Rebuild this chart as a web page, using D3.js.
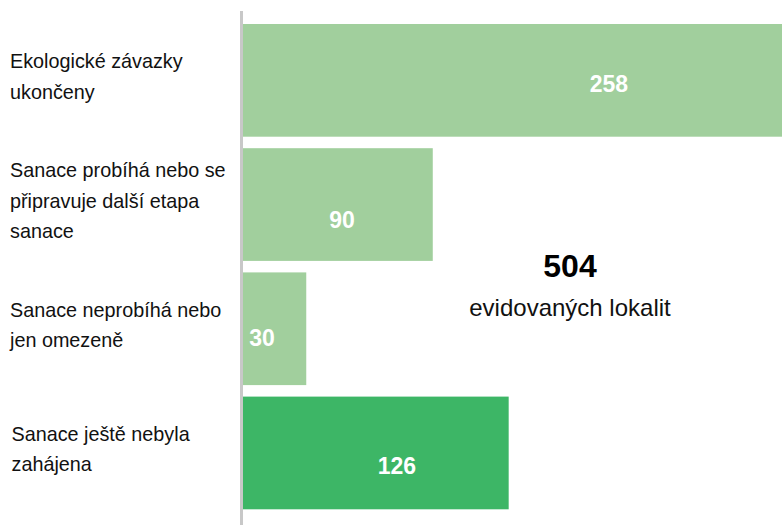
<!DOCTYPE html>
<html lang="cs">
<head>
  <meta charset="UTF-8">
  <title>Evidované lokality</title>
  <style>
    body { margin: 0; background: #fff; }
    svg { display: block; font-family: Arial, "Liberation Sans", sans-serif; }
  </style>
</head>
<body>
  <svg width="782" height="525"></svg>
  <script src="https://cdn.jsdelivr.net/npm/d3@7"></script>
  <script>
    // data
    var categories = [
      ["Ekologické závazky", "ukončeny"],
      ["Sanace probíhá nebo se", "připravuje další etapa", "sanace"],
      ["Sanace neprobíhá nebo", "jen omezeně"],
      ["Sanace ještě nebyla", "zahájena"]
    ];
    var values = [258, 90, 30, 126];
    var barColors = ["#a1cf9d", "#a1cf9d", "#a1cf9d", "#3db666"];
    var totalLabel = "evidovaných lokalit";

    // where the value labels sit (value units along x, px below bar middle)
    var labelAt = [173.5, 47, 9, 73];
    var labelDown = [3.5, 15, 8.5, 13];

    var svg = d3.select("svg");
    var width = +svg.attr("width");
    var height = +svg.attr("height");

    var x = d3.scaleLinear()
      .domain([0, d3.max(values)])
      .range([243, 787]);

    var y = d3.scaleBand()
      .domain(d3.range(values.length))
      .range([18.25, 515.05])
      .paddingInner(0.0926)
      .paddingOuter(0.0463);

    // bars
    svg.append("g")
      .selectAll("rect")
      .data(values)
      .join("rect")
      .attr("x", x(0))
      .attr("y", (d, i) => y(i))
      .attr("width", d => x(d) - x(0))
      .attr("height", y.bandwidth())
      .attr("fill", (d, i) => barColors[i]);

    // axis line
    svg.append("line")
      .attr("x1", x(0) - 1.5).attr("x2", x(0) - 1.5)
      .attr("y1", 11).attr("y2", height)
      .attr("stroke", "#c8c8c8")
      .attr("stroke-width", 3);

    // category labels
    var lineH = 30.5;
    var cat = svg.append("g")
      .selectAll("text")
      .data(categories)
      .join("text")
      .attr("font-size", 19.8)
      .attr("fill", "#111");
    cat.each(function (lines, i) {
      var mid = y(i) + y.bandwidth() / 2 + 3;
      var first = mid - (lines.length - 1) / 2 * lineH;
      d3.select(this).selectAll("tspan")
        .data(lines)
        .join("tspan")
        .attr("x", i === 3 ? 11.5 : 10)
        .attr("y", (l, j) => first + j * lineH)
        .text(l => l);
    });

    // value labels
    svg.append("g")
      .selectAll("text")
      .data(values)
      .join("text")
      .attr("x", (d, i) => x(labelAt[i]))
      .attr("y", (d, i) => y(i) + y.bandwidth() / 2 + labelDown[i])
      .attr("dy", "0.36em")
      .attr("text-anchor", "middle")
      .attr("font-size", 23)
      .attr("font-weight", "bold")
      .attr("fill", "#fff")
      .text(d => d);

    // total
    svg.append("text")
      .attr("x", 570)
      .attr("y", 277)
      .attr("text-anchor", "middle")
      .attr("font-size", 32)
      .attr("font-weight", "bold")
      .attr("fill", "#000")
      .text(d3.sum(values));

    svg.append("text")
      .attr("x", 570)
      .attr("y", 316)
      .attr("text-anchor", "middle")
      .attr("font-size", 24)
      .attr("fill", "#111")
      .text(totalLabel);
  </script>
</body>
</html>
